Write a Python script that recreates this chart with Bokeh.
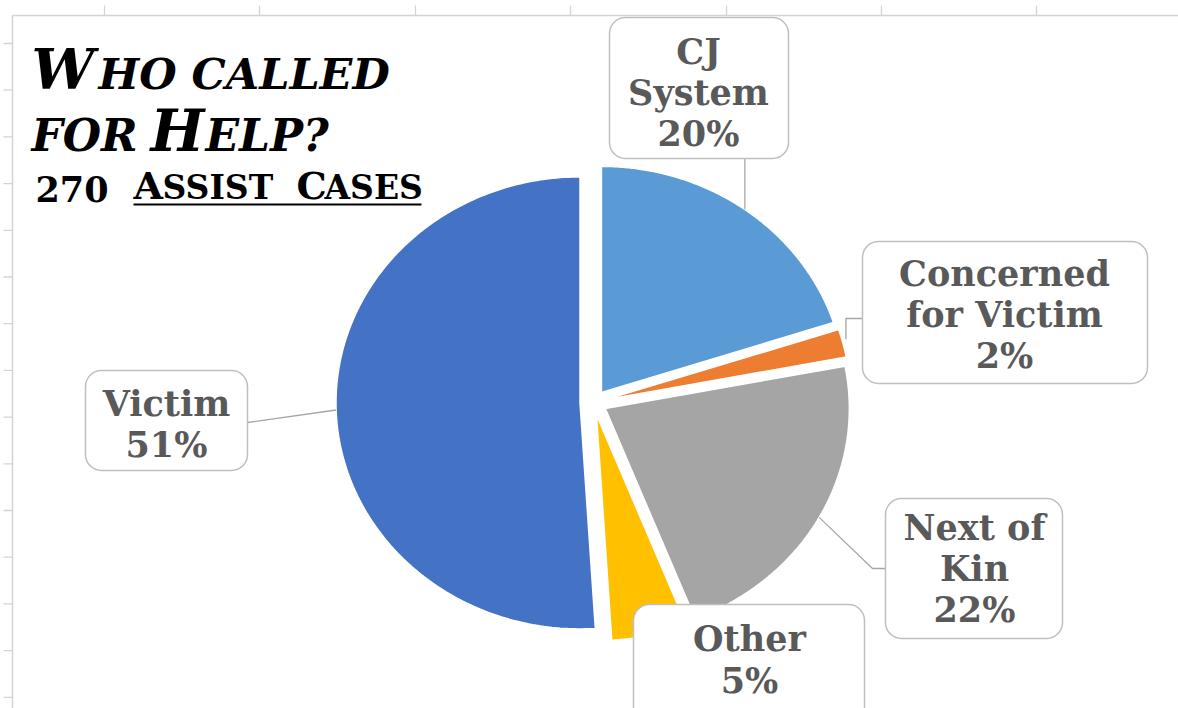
import numpy as np
from bokeh.plotting import figure
from bokeh.models import Range1d
from bokeh.core.properties import value
from bokeh.embed import file_html
from bokeh.resources import INLINE

# ---------------- data ----------------
categories = ["CJ System", "Concerned for Victim", "Next of Kin", "Other", "Victim"]
percents = [20, 2, 22, 5, 51]
colors = ["#5B9BD5", "#ED7D31", "#A5A5A5", "#FFC000", "#4472C4"]
name_lines = [["CJ", "System"], ["Concerned", "for Victim"], ["Next of", "Kin"], ["Other"], ["Victim"]]

title_line1 = ["W", "HO CALLED"]
title_line2 = ["FOR", "H", "ELP?"]
title_line3 = ["270", "A", "SSIST", "C", "ASES"]

# ---------------- layout (reference pixel coords, y downwards) ----------------
W, H = 1178, 708
def Y(y):
    return H - y

CX, CY = 593.0, 402.0
RX, RY = 244.0, 226.0
EXX, EXY = 13.5, 12.5

# label boxes: left, right, top, bottom ; text center x ; first line y ; line step
boxes = {
    "CJ System": (609, 788, 17, 158, 698, 51, 41),
    "Concerned for Victim": (862, 1147, 241, 383, 1004, 273, 41),
    "Next of Kin": (885, 1062, 498, 638, 974, 527, 41),
    "Other": (633, 864, 604, 730, 749, 638, 42),
    "Victim": (85, 247, 370, 470, 166, 403, 41),
}

p = figure(width=W, height=H, output_backend="svg", toolbar_location=None,
           x_range=Range1d(0, W), y_range=Range1d(0, H),
           x_axis_location=None, y_axis_location=None, min_border=0,
           background_fill_color="white", border_fill_color="white")
p.outline_line_color = None
p.grid.visible = False

# ---------------- pie slices (exploded, slightly elliptical) ----------------
total = float(sum(percents))
cum = np.concatenate([[0.0], np.cumsum(percents)]) / total * 2 * np.pi
apex = {}
for i, cat in enumerate(categories):
    s, e = cum[i], cum[i + 1]
    mid = 0.5 * (s + e)
    ox = CX + EXX * np.sin(mid)
    oy = CY - EXY * np.cos(mid)
    apex[cat] = (ox, oy, mid)
    th = np.linspace(s, e, 200)
    xs = [ox] + list(ox + RX * np.sin(th))
    ys = [Y(oy)] + [Y(v) for v in (oy - RY * np.cos(th))]
    p.patch(xs, ys, fill_color=colors[i], line_color="white", line_width=1.5)

def edge_point(cat):
    ox, oy, mid = apex[cat]
    return ox + RX * np.sin(mid), oy - RY * np.cos(mid)

leader_col = "#A6A6A6"
ex, ey = edge_point("CJ System")
p.line([ex, ex], [Y(ey), Y(158)], line_color=leader_col, line_width=1.3)
ex, ey = edge_point("Concerned for Victim")
p.line([ex + 3, ex + 3, 862], [Y(ey - 4), Y(318), Y(318)], line_color=leader_col, line_width=1.3)
ex, ey = edge_point("Next of Kin")
p.line([ex, 872, 885], [Y(ey), Y(568), Y(568)], line_color=leader_col, line_width=1.3)
ex, ey = edge_point("Victim")
p.line([ex, 247], [Y(ey), Y(422)], line_color=leader_col, line_width=1.3)

# ---------------- label boxes ----------------
for i, cat in enumerate(categories):
    l, r, t, b, tx, ty, step = boxes[cat]
    p.quad(left=l, right=r, top=Y(t), bottom=Y(b), fill_color="white",
           line_color="#BFBFBF", line_width=1.5, border_radius=16)
    lines = name_lines[i] + [f"{percents[i]}%"]
    for k, txt in enumerate(lines):
        p.text(x=[tx], y=[Y(ty + k * step)], text=[txt], text_font=value("DejaVu Serif"),
               text_font_style="bold", text_font_size="35px", text_color="#595959",
               text_align="center", text_baseline="middle")

# ---------------- spreadsheet frame ----------------
frame_col = "#D4D4D4"
p.line([12, W], [Y(15), Y(15)], line_color=frame_col, line_width=1.5)
p.line([12, 12], [Y(15), Y(H)], line_color=frame_col, line_width=1.5)
for tx in [104, 259, 415, 570, 726, 881, 1036]:
    p.line([tx, tx], [Y(5), Y(15)], line_color=frame_col, line_width=1.3)
for k in range(15):
    ty = 43 + 46.7 * k
    p.line([3, 12], [Y(ty), Y(ty)], line_color=frame_col, line_width=1.3)

# ---------------- title (emulated small caps) ----------------
def run(txt, x, center_y, size, italic=True):
    p.text(x=[x], y=[Y(center_y)], text=[txt], text_font=value("DejaVu Serif"),
           text_font_style="bold italic" if italic else "bold",
           text_font_size=f"{size}px", text_color="black",
           text_align="left", text_baseline="middle")

run(title_line1[0], 31, 68.5, 56)
run(title_line1[1], 98, 73, 43)
run(title_line2[0], 31, 134.5, 44)
run(title_line2[1], 150, 129.5, 57)
run(title_line2[2], 205, 134.5, 44)
run(title_line3[0], 35, 188, 35, italic=False)
run(title_line3[1], 133, 184.5, 38, italic=False)
run(title_line3[2], 162, 187, 33, italic=False)
run(title_line3[3], 296, 184.5, 38, italic=False)
run(title_line3[4], 324, 187, 33, italic=False)
p.line([133, 421], [Y(204), Y(204)], line_color="black", line_width=2.2)

open("out.html", "w").write(file_html(p, INLINE))
